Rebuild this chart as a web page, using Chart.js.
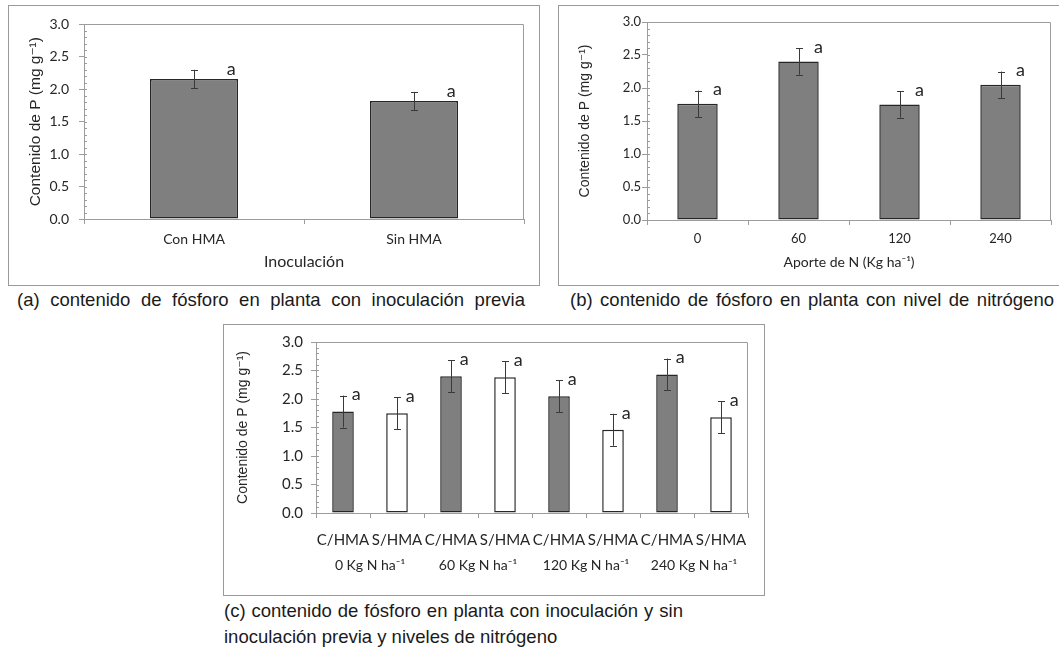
<!DOCTYPE html>
<html lang="es">
<head>
<meta charset="utf-8">
<title>Contenido de fósforo en planta</title>
<script src="https://cdn.jsdelivr.net/npm/chart.js@4.4.1/dist/chart.umd.min.js"></script>
<style>
  html, body { margin: 0; padding: 0; background: #fff; }
  body { position: relative; width: 1059px; height: 654px; overflow: hidden; }
  .panel { position: absolute; border: 1px solid #9a9a9a; box-sizing: border-box; }
  .panel canvas { position: absolute; left: 0; top: 0; }
  .caption { position: absolute; font-family: 'Liberation Sans', Arial, sans-serif; font-size: 18.5px; line-height: 22px; color: #1a1a1a; white-space: nowrap; }
  .just { text-align: justify; text-align-last: justify; white-space: normal; }
</style>
</head>
<body>

<div class="panel" style="left:8px; top:5px; width:532px; height:281px;">
  <canvas id="chartA" width="530" height="279"></canvas>
</div>
<div class="panel" style="left:558px; top:5px; width:510px; height:281px;">
  <canvas id="chartB" width="508" height="279"></canvas>
</div>
<div class="panel" style="left:223px; top:324px; width:542px; height:272px;">
  <canvas id="chartC" width="540" height="270"></canvas>
</div>

<div class="caption just" style="left:17px; top:289px; width:508px;">(a) contenido de fósforo en planta con inoculación previa</div>
<div class="caption just" style="left:570px; top:289px; width:484px;">(b) contenido de fósforo en planta con nivel de nitrógeno</div>
<div class="caption just" style="left:224px; top:600px; width:459px;">(c) contenido de fósforo en planta con inoculación y sin</div>
<div class="caption" style="left:224px; top:626px;">inoculación previa y niveles de nitrógeno</div>

<script>
// (a) inoculación
const inocLabels = ['Con HMA', 'Sin HMA'];
const inocMeans = [2.16, 1.82];
const inocErr = [0.14, 0.14];
const inocLetters = ['a', 'a'];

// (b) aporte de N
const nLabels = ['0', '60', '120', '240'];
const nMeans = [1.76, 2.40, 1.75, 2.05];
const nErr = [0.20, 0.20, 0.20, 0.20];
const nLetters = ['a', 'a', 'a', 'a'];

// (c) inoculación x nivel de N
const mixLabels = ['C/HMA', 'S/HMA', 'C/HMA', 'S/HMA', 'C/HMA', 'S/HMA', 'C/HMA', 'S/HMA'];
const mixGroups = ['0 Kg N ha⁻¹', '60 Kg N ha⁻¹', '120 Kg N ha⁻¹', '240 Kg N ha⁻¹'];
const mixMeans = [1.78, 1.75, 2.40, 2.38, 2.05, 1.46, 2.43, 1.68];
const mixErr = [0.28, 0.28, 0.28, 0.28, 0.28, 0.28, 0.28, 0.28];
const mixLetters = ['a', 'a', 'a', 'a', 'a', 'a', 'a', 'a'];

// eje Y común
const yMin = 0;
const yMax = 3;
const yStep = 0.5;
const yMinor = 0.1;

const GRAY_BAR = '#7f7f7f';
const AXIS = '#9c9c9c';
const INK = '#262626';
const SANS = "Lato, 'DejaVu Sans', sans-serif";
const ARIAL = "'Liberation Sans', 'DejaVu Sans', sans-serif";

Chart.defaults.color = INK;
Chart.defaults.font.family = SANS;

// barras de error, letras, ticks menores y marco del área de trazado
function makeExtras(errors, letters, groups, letterSize) {
    return {
        id: 'extras',
        afterDatasetsDraw(chart) {
            const ctx = chart.ctx;
            const area = chart.chartArea;
            const ys = chart.scales.y;
            const xs = chart.scales.x;
            const values = chart.data.datasets[0].data;
            ctx.save();

            ctx.strokeStyle = AXIS;
            ctx.lineWidth = 1;
            ctx.beginPath();
            ctx.moveTo(area.left, Math.round(area.top) + 0.5);
            ctx.lineTo(Math.round(area.right) - 0.5, Math.round(area.top) + 0.5);
            ctx.lineTo(Math.round(area.right) - 0.5, area.bottom);
            ctx.stroke();

            ctx.beginPath();
            for (let v = yMin; v <= yMax + 1e-9; v += yMinor) {
                const py = Math.round(ys.getPixelForValue(v)) + 0.5;
                ctx.moveTo(area.left, py);
                ctx.lineTo(area.left + 3, py);
            }
            ctx.stroke();

            const meta = chart.getDatasetMeta(0);
            ctx.strokeStyle = '#3a3a3a';
            ctx.fillStyle = INK;
            ctx.font = letterSize + 'px ' + SANS;
            ctx.textAlign = 'left';
            ctx.textBaseline = 'middle';
            meta.data.forEach((bar, i) => {
                const v = values[i];
                const e = errors[i];
                const cx = Math.round(bar.x) + 0.5;
                const top = ys.getPixelForValue(v + e);
                const bot = ys.getPixelForValue(v - e);
                ctx.beginPath();
                ctx.moveTo(cx, top);
                ctx.lineTo(cx, bot);
                ctx.moveTo(cx - 3.5, Math.round(top) + 0.5);
                ctx.lineTo(cx + 3.5, Math.round(top) + 0.5);
                ctx.moveTo(cx - 3.5, Math.round(bot) + 0.5);
                ctx.lineTo(cx + 3.5, Math.round(bot) + 0.5);
                ctx.stroke();
                ctx.fillText(letters[i], bar.x + bar.width * 0.36 + 1, top - 1);
            });

            if (groups) {
                ctx.font = '14px ' + SANS;
                ctx.textAlign = 'center';
                groups.forEach((g, k) => {
                    const gx = (xs.getPixelForValue(2 * k) + xs.getPixelForValue(2 * k + 1)) / 2;
                    ctx.fillText(g, gx, area.bottom + 52);
                });
            }
            ctx.restore();
        }
    };
}

function barChart(id, cfg) {
    const ctx = document.getElementById(id).getContext('2d');
    return new Chart(ctx, {
        type: 'bar',
        data: {
            labels: cfg.labels,
            datasets: [{
                data: cfg.means,
                backgroundColor: cfg.colors,
                borderColor: INK,
                borderWidth: 1.5,
                borderSkipped: false,
                categoryPercentage: 1.0,
                barPercentage: 0.4
            }]
        },
        options: {
            responsive: false,
            animation: false,
            devicePixelRatio: 1,
            layout: { padding: { top: cfg.padTop, right: cfg.padRight, left: 0, bottom: 0 } },
            plugins: { legend: { display: false }, tooltip: { enabled: false } },
            scales: {
                x: {
                    afterFit: (s) => { s.height = cfg.xHeight; },
                    grid: { offset: true, drawOnChartArea: false, tickLength: 5, color: AXIS },
                    border: { color: AXIS },
                    ticks: { padding: cfg.xTickPad, font: { size: cfg.xTickSize }, color: INK, maxRotation: 0, autoSkip: false },
                    title: {
                        display: !!cfg.xTitle,
                        text: cfg.xTitle,
                        color: INK,
                        font: { size: cfg.xTitleSize },
                        padding: { top: 0, bottom: cfg.xTitlePad }
                    }
                },
                y: {
                    min: yMin,
                    max: yMax,
                    afterFit: (s) => { s.width = cfg.yWidth; },
                    grid: { drawOnChartArea: false, tickLength: 5, color: AXIS },
                    border: { color: AXIS },
                    ticks: {
                        stepSize: yStep,
                        padding: cfg.yTickPad,
                        font: { size: cfg.yTickSize },
                        color: INK,
                        callback: (v) => Number(v).toFixed(1)
                    },
                    title: {
                        display: true,
                        text: 'Contenido de P (mg g⁻¹)',
                        color: INK,
                        font: { family: ARIAL, size: cfg.yTitleSize },
                        padding: { top: cfg.yTitlePad, bottom: 0 }
                    }
                }
            }
        },
        plugins: [makeExtras(cfg.errors, cfg.letters, cfg.groups, cfg.letterSize)]
    });
}

barChart('chartA', {
    labels: inocLabels, means: inocMeans, errors: inocErr, letters: inocLetters,
    colors: inocMeans.map(() => GRAY_BAR),
    padTop: 15, padRight: 15, yWidth: 75, xHeight: 66,
    xTickPad: 7, xTickSize: 14, xTitle: 'Inoculación', xTitleSize: 16, xTitlePad: 14,
    yTickPad: 10, yTickSize: 14, yTitleSize: 15.5, yTitlePad: 17, letterSize: 18
});

barChart('chartB', {
    labels: nLabels, means: nMeans, errors: nErr, letters: nLetters,
    colors: nMeans.map(() => GRAY_BAR),
    padTop: 16, padRight: 16, yWidth: 88, xHeight: 65,
    xTickPad: 6, xTickSize: 13, xTitle: 'Aporte de N (Kg ha⁻¹)', xTitleSize: 14, xTitlePad: 14,
    yTickPad: 1, yTickSize: 13, yTitleSize: 14, yTitlePad: 18, letterSize: 18
});

barChart('chartC', {
    labels: mixLabels, means: mixMeans, errors: mixErr, letters: mixLetters, groups: mixGroups,
    colors: mixLabels.map((l) => l.startsWith('C') ? GRAY_BAR : '#ffffff'),
    padTop: 14, padRight: 16, yWidth: 92, xHeight: 82,
    xTickPad: 13, xTickSize: 15, xTitle: '', xTitleSize: 14, xTitlePad: 0,
    yTickPad: 8, yTickSize: 15, yTitleSize: 14, yTitlePad: 11, letterSize: 18
});
</script>
</body>
</html>
